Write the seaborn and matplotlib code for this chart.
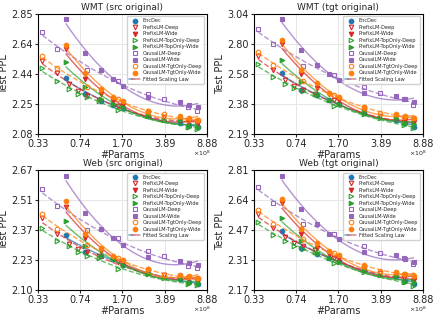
import numpy as np
import seaborn as sns
import matplotlib.pyplot as plt
from matplotlib.lines import Line2D
from matplotlib.legend_handler import HandlerTuple

# model sizes (x 1e8)
x_wide = [0.57, 0.82, 1.13, 1.43, 1.73, 2.82, 5.24, 6.24, 7.40]
x_deep_full = [0.36, 0.48, 0.60, 0.72, 0.86, 1.08, 1.57, 2.82, 3.86, 6.15, 7.25]
x_deep_sparse = [0.36, 0.48, 0.86, 1.57, 2.82, 3.86, 6.15, 7.25]

series_names = ['EncDec', 'PrefixLM-Deep', 'PrefixLM-Wide', 'PrefixLM-TopOnly-Deep',
                'PrefixLM-TopOnly-Wide', 'CausalLM-Deep', 'CausalLM-Wide',
                'CausalLM-TgtOnly-Deep', 'CausalLM-TgtOnly-Wide']
panel_titles = ['WMT (src original)', 'WMT (tgt original)', 'Web (src original)', 'Web (tgt original)']
y_limits = [(2.08, 2.85), (2.19, 3.04), (2.10, 2.67), (2.17, 2.81)]
x_tick_labels = ['0.33', '0.74', '1.70', '3.89', '8.88']
y_tick_labels = [['2.08', '2.25', '2.44', '2.64', '2.85'],
                 ['2.19', '2.38', '2.58', '2.80', '3.04'],
                 ['2.10', '2.23', '2.37', '2.51', '2.67'],
                 ['2.17', '2.31', '2.47', '2.64', '2.81']]

# WMT src
wmt_src_encdec = [2.41, 2.31, 2.265, 2.245, 2.225, 2.18, 2.14, 2.13, 2.12]
wmt_src_prefix_deep = [2.52, 2.44, 2.37, 2.33, 2.30, 2.275, 2.24, 2.20, 2.175, 2.145, 2.135]
wmt_src_prefix_wide = [2.60, 2.40, 2.31, 2.27, 2.245, 2.20, 2.16, 2.15, 2.14]
wmt_src_top_deep = [2.47, 2.39, 2.34, 2.31, 2.29, 2.27, 2.215, 2.18, 2.155, 2.12, 2.11]
wmt_src_top_wide = [2.51, 2.35, 2.28, 2.25, 2.23, 2.19, 2.155, 2.12, 2.12]
wmt_src_causal_deep = [2.72, 2.60, 2.46, 2.39, 2.31, 2.28, 2.23, 2.21]
wmt_src_causal_wide = [2.81, 2.57, 2.46, 2.40, 2.36, 2.29, 2.26, 2.245, 2.23]
wmt_src_tgt_deep = [2.55, 2.47, 2.35, 2.28, 2.21, 2.19, 2.16, 2.155]
wmt_src_tgt_wide = [2.63, 2.44, 2.34, 2.29, 2.265, 2.21, 2.18, 2.17, 2.16]

# WMT tgt
wmt_tgt_encdec = [2.59, 2.47, 2.435, 2.40, 2.375, 2.32, 2.275, 2.255, 2.235]
wmt_tgt_prefix_deep = [2.71, 2.61, 2.54, 2.50, 2.47, 2.44, 2.40, 2.33, 2.30, 2.26, 2.25]
wmt_tgt_prefix_wide = [2.80, 2.58, 2.485, 2.44, 2.40, 2.335, 2.295, 2.275, 2.26]
wmt_tgt_top_deep = [2.65, 2.56, 2.51, 2.48, 2.465, 2.44, 2.365, 2.31, 2.285, 2.245, 2.225]
wmt_tgt_top_wide = [2.68, 2.525, 2.435, 2.40, 2.38, 2.33, 2.29, 2.255, 2.25]
wmt_tgt_causal_deep = [2.915, 2.80, 2.64, 2.575, 2.49, 2.45, 2.41, 2.37]
wmt_tgt_causal_wide = [3.00, 2.755, 2.645, 2.58, 2.54, 2.45, 2.43, 2.41, 2.39]
wmt_tgt_tgt_deep = [2.74, 2.645, 2.53, 2.435, 2.36, 2.32, 2.295, 2.29]
wmt_tgt_tgt_wide = [2.83, 2.61, 2.515, 2.45, 2.425, 2.355, 2.31, 2.30, 2.285]

# Web src
web_src_encdec = [2.345, 2.265, 2.25, 2.235, 2.21, 2.175, 2.145, 2.135, 2.125]
web_src_prefix_deep = [2.425, 2.35, 2.305, 2.28, 2.265, 2.25, 2.22, 2.18, 2.165, 2.145, 2.14]
web_src_prefix_wide = [2.48, 2.33, 2.27, 2.24, 2.22, 2.18, 2.16, 2.15, 2.14]
web_src_top_deep = [2.38, 2.315, 2.295, 2.265, 2.25, 2.24, 2.19, 2.17, 2.15, 2.125, 2.12]
web_src_top_wide = [2.41, 2.295, 2.25, 2.235, 2.21, 2.175, 2.15, 2.13, 2.13]
web_src_causal_deep = [2.57, 2.485, 2.37, 2.33, 2.27, 2.25, 2.205, 2.195]
web_src_causal_wide = [2.64, 2.45, 2.375, 2.33, 2.30, 2.245, 2.225, 2.215, 2.21]
web_src_tgt_deep = [2.445, 2.375, 2.30, 2.24, 2.19, 2.165, 2.155, 2.15]
web_src_tgt_wide = [2.51, 2.35, 2.285, 2.25, 2.23, 2.19, 2.165, 2.16, 2.15]

# Web tgt
web_tgt_encdec = [2.465, 2.375, 2.345, 2.325, 2.31, 2.265, 2.235, 2.215, 2.20]
web_tgt_prefix_deep = [2.555, 2.48, 2.435, 2.40, 2.385, 2.365, 2.325, 2.27, 2.25, 2.225, 2.215]
web_tgt_prefix_wide = [2.615, 2.45, 2.375, 2.345, 2.325, 2.27, 2.245, 2.235, 2.22]
web_tgt_top_deep = [2.515, 2.445, 2.41, 2.385, 2.37, 2.355, 2.30, 2.255, 2.24, 2.21, 2.19]
web_tgt_top_wide = [2.535, 2.41, 2.35, 2.325, 2.305, 2.27, 2.235, 2.21, 2.21]
web_tgt_causal_deep = [2.71, 2.62, 2.50, 2.45, 2.385, 2.35, 2.325, 2.295]
web_tgt_causal_wide = [2.775, 2.585, 2.50, 2.45, 2.42, 2.355, 2.34, 2.32, 2.305]
web_tgt_tgt_deep = [2.58, 2.50, 2.42, 2.35, 2.29, 2.26, 2.245, 2.24]
web_tgt_tgt_wide = [2.64, 2.475, 2.40, 2.36, 2.34, 2.285, 2.255, 2.245, 2.235]

panels = [
    [wmt_src_encdec, wmt_src_prefix_deep, wmt_src_prefix_wide, wmt_src_top_deep, wmt_src_top_wide,
     wmt_src_causal_deep, wmt_src_causal_wide, wmt_src_tgt_deep, wmt_src_tgt_wide],
    [wmt_tgt_encdec, wmt_tgt_prefix_deep, wmt_tgt_prefix_wide, wmt_tgt_top_deep, wmt_tgt_top_wide,
     wmt_tgt_causal_deep, wmt_tgt_causal_wide, wmt_tgt_tgt_deep, wmt_tgt_tgt_wide],
    [web_src_encdec, web_src_prefix_deep, web_src_prefix_wide, web_src_top_deep, web_src_top_wide,
     web_src_causal_deep, web_src_causal_wide, web_src_tgt_deep, web_src_tgt_wide],
    [web_tgt_encdec, web_tgt_prefix_deep, web_tgt_prefix_wide, web_tgt_top_deep, web_tgt_top_wide,
     web_tgt_causal_deep, web_tgt_causal_wide, web_tgt_tgt_deep, web_tgt_tgt_wide],
]

xs_for = [x_wide, x_deep_full, x_wide, x_deep_full, x_wide, x_deep_sparse, x_wide, x_deep_sparse, x_wide]
colors = ['#1f77b4', '#d62728', '#d62728', '#2ca02c', '#2ca02c', '#9467bd', '#9467bd', '#ff7f0e', '#ff7f0e']
markers = ['o', 'v', 'v', '>', '>', 's', 's', 'o', 'o']
filled = [True, False, True, False, True, False, True, False, True]

sns.set_style('whitegrid')
plt.rcParams['font.family'] = ['DejaVu Sans']
plt.rcParams['axes.edgecolor'] = 'black'
plt.rcParams['axes.linewidth'] = 0.8

fig, axes = plt.subplots(2, 2, figsize=(4.36, 3.16), dpi=100)
fig.subplots_adjust(left=0.087, right=0.970, top=0.956, bottom=0.082, wspace=0.278, hspace=0.30)

for p, ax in enumerate(axes.flat):
    ymin, ymax = y_limits[p]
    for i, name in enumerate(series_names):
        x = np.array(xs_for[i]) * 1e8
        y = np.array(panels[p][i])
        # fitted scaling curve (smooth fit in log-log space)
        coef = np.polyfit(np.log(x), np.log(y), 2)
        xf = np.geomspace(x.min(), x.max(), 60)
        yf = np.exp(np.polyval(coef, np.log(xf)))
        sns.lineplot(x=xf, y=yf, ax=ax, color=colors[i], alpha=0.7, lw=1.0,
                     linestyle='--' if not filled[i] else '-', legend=False)
        ax.plot(x, y, ls='none', marker=markers[i], ms=3.3, mew=0.8,
                mfc=colors[i] if filled[i] else 'none', mec=colors[i], label=name)
    ax.set_xscale('log')
    ax.set_yscale('log')
    ax.set_xlim(0.33e8, 8.88e8)
    ax.set_ylim(ymin, ymax)
    ax.set_xticks(np.geomspace(0.33e8, 8.88e8, len(x_tick_labels)))
    ax.set_xticklabels(x_tick_labels)
    ax.set_yticks(np.geomspace(ymin, ymax, len(y_tick_labels[p])))
    ax.set_yticklabels(y_tick_labels[p])
    ax.minorticks_off()
    ax.tick_params(labelsize=7, length=2, pad=1.5, left=True, bottom=True)
    ax.grid(True, color='#e6e6e6', lw=0.7)
    ax.set_title(panel_titles[p], fontsize=6.5, pad=3)
    ax.set_xlabel('#Params', fontsize=7, labelpad=1)
    ax.set_ylabel('Test PPL', fontsize=7, labelpad=2)
    ax.text(1.02, -0.125, r'$\times10^8$', transform=ax.transAxes, ha='right', va='top', fontsize=4.5)

    handles, labels = ax.get_legend_handles_labels()
    fit_handle = tuple(Line2D([], [], color=c, lw=1.2, alpha=0.6)
                       for c in ['#1f77b4', '#d62728', '#9467bd', '#ff7f0e', '#9467bd'])
    handles.append(fit_handle)
    labels.append('Fitted Scaling Law')
    ax.legend(handles, labels, loc='upper right', fontsize=3.6, frameon=True,
              handler_map={tuple: HandlerTuple(ndivide=None, pad=0)},
              handlelength=2.2, handletextpad=0.5, labelspacing=0.3,
              borderpad=0.4, framealpha=0.9, edgecolor='#cccccc', fancybox=True)

fig.savefig('out.png', dpi=100)
